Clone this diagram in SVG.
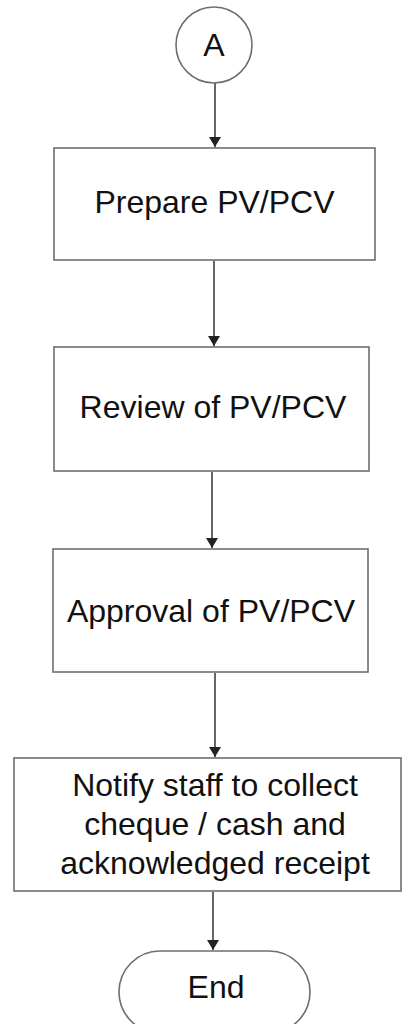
<svg xmlns="http://www.w3.org/2000/svg" width="403" height="1024" viewBox="0 0 403 1024">
<style>
.box{fill:#fff;stroke:#6e6e6e;stroke-width:1.6}
.t{font-family:"Liberation Sans",Arial,sans-serif;font-size:32px;fill:#111;text-anchor:middle}
.c{stroke:#333;stroke-width:1.5;fill:none}
</style>
<defs>
<marker id="ah" markerWidth="10" markerHeight="12" refX="10" refY="6" orient="auto" markerUnits="userSpaceOnUse">
<path d="M0,0 L10,6 L0,12 Z" fill="#222"/>
</marker>
</defs>
<rect width="403" height="1024" fill="#fff"/>
<g id="connectors">
<line class="c" x1="215" y1="83" x2="215" y2="147" marker-end="url(#ah)"/>
<line class="c" x1="214" y1="261" x2="214" y2="346" marker-end="url(#ah)"/>
<line class="c" x1="212" y1="472" x2="212" y2="548" marker-end="url(#ah)"/>
<line class="c" x1="215" y1="673" x2="215" y2="757" marker-end="url(#ah)"/>
<line class="c" x1="213" y1="892" x2="213" y2="950" marker-end="url(#ah)"/>
</g>
<g id="nodeA">
<circle class="box" cx="214" cy="45" r="38"/>
<text class="t" x="214" y="56">A</text>
</g>
<g id="prepare">
<rect class="box" x="54" y="148" width="321" height="112"/>
<text class="t" x="214.5" y="213">Prepare PV/PCV</text>
</g>
<g id="review">
<rect class="box" x="54" y="347" width="315" height="124"/>
<text class="t" x="213" y="418">Review of PV/PCV</text>
</g>
<g id="approval">
<rect class="box" x="53" y="549" width="315" height="123"/>
<text class="t" x="211" y="622">Approval of PV/PCV</text>
</g>
<g id="notify">
<rect class="box" x="14" y="758" width="387" height="133"/>
<text class="t" x="215" y="796">Notify staff to collect</text>
<text class="t" x="215" y="835">cheque / cash and</text>
<text class="t" x="215" y="874">acknowledged receipt</text>
</g>
<g id="end">
<rect class="box" x="119" y="951" width="191" height="82" rx="41" ry="41"/>
<text class="t" x="216" y="998">End</text>
</g>
</svg>
